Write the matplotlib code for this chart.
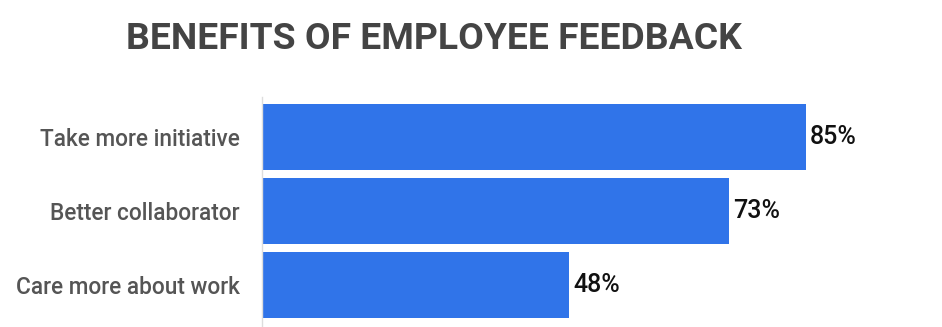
import matplotlib.pyplot as plt

categories = ['Take more initiative', 'Better collaborator', 'Care more about work']
percentages = [85, 73, 48]
title = 'BENEFITS OF EMPLOYEE FEEDBACK'

bar_color = '#3074E9'

fig = plt.figure(figsize=(9.42, 3.27), dpi=100)
ax = fig.add_axes([262 / 942, 0.0, 640 / 942, 230 / 327])

y = list(range(len(categories)))
ax.barh(y, percentages, height=0.89, color=bar_color)
ax.set_xlim(0, 100)
ax.set_ylim(len(categories) - 1 + 0.57, -0.54)

# value labels at the end of each bar
for yi, v in zip(y, percentages):
    ax.text(v + 0.6, yi, f'{v}%', va='center', ha='left', fontsize=18,
            family=['Roboto', 'DejaVu Sans'], fontweight='medium',
            color='#111111')

ax.set_yticks(y)
ax.set_yticklabels(categories, fontsize=16.3, family=['Roboto', 'DejaVu Sans'],
                   fontweight='medium', color='#555555')
ax.tick_params(axis='y', length=0, pad=16)
ax.set_xticks([])

for side in ['top', 'right', 'bottom']:
    ax.spines[side].set_visible(False)
ax.spines['left'].set_color('#dddddd')
ax.spines['left'].set_linewidth(1)

fig.text(434 / 942, 1 - 49 / 327, title, ha='center', va='baseline',
         fontsize=26.8, fontweight='bold', color='#444444',
         family=['Roboto', 'DejaVu Sans'])

fig.savefig('out.png', dpi=100)
